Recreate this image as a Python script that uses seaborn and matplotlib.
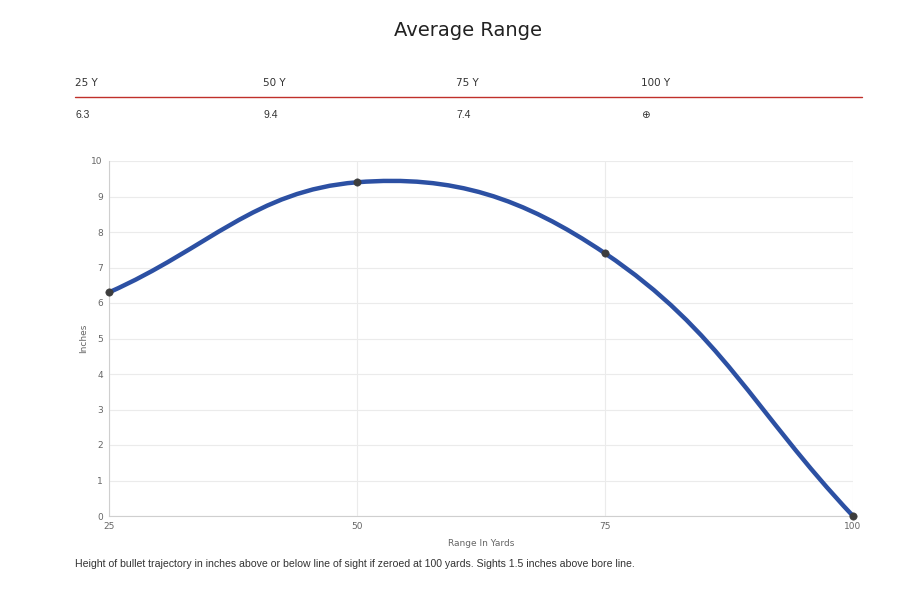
import numpy as np
import matplotlib
matplotlib.use("Agg")
import matplotlib.pyplot as plt
from matplotlib.path import Path
from matplotlib.patches import PathPatch
import seaborn as sns
import pandas as pd

# ---- data ----
ranges = [25, 50, 75, 100]
heights = [6.3, 9.4, 7.4, 0.0]
header_labels = ["25 Y", "50 Y", "75 Y", "100 Y"]
value_labels = ["6.3", "9.4", "7.4", "\u2295"]
title = "Average Range"
x_label = "Range In Yards"
y_label = "Inches"
caption = ("Height of bullet trajectory in inches above or below line of sight "
           "if zeroed at 100 yards. Sights 1.5 inches above bore line.")

sns.set_theme(style="white")
plt.rcParams['font.family'] = ['DejaVu Sans']
narrow = ['Liberation Sans Narrow', 'Liberation Sans', 'DejaVu Sans']

W, H = 900, 596
fig = plt.figure(figsize=(W / 100, H / 100), dpi=100)
left, right, top, bottom = 109, 853, 161, 516
ax = fig.add_axes([left / W, 1 - bottom / H, (right - left) / W, (bottom - top) / H])

ax.set_xlim(25, 100)
ax.set_ylim(0, 10)
ax.set_xticks(ranges)
ax.set_yticks(range(0, 11))
ax.grid(True, color="#ebebeb", linewidth=0.8)
ax.set_axisbelow(True)
for s in ["top", "right"]:
    ax.spines[s].set_visible(False)
ax.spines["left"].set_color("#cfcfcf")
ax.spines["bottom"].set_color("#cfcfcf")
ax.spines["left"].set_linewidth(0.8)
ax.spines["bottom"].set_linewidth(0.8)
ax.tick_params(axis="both", length=4, width=0.8, color="#e0e0e0",
               labelsize=6.5, labelcolor="#666666", pad=0.5)

# Chart.js style bezier spline (tension 0.4) computed in pixel-scaled space
sx = (right - left) / 75.0
sy = (bottom - top) / 10.0
t = 0.4
pts = list(zip(ranges, heights))
n = len(pts)
ctrl = []
for i in range(n):
    cx, cy = pts[i]
    px, py = pts[i - 1] if i > 0 else pts[i]
    nx, ny = pts[i + 1] if i < n - 1 else pts[i]
    d01 = np.hypot((cx - px) * sx, (cy - py) * sy)
    d12 = np.hypot((nx - cx) * sx, (ny - cy) * sy)
    tot = d01 + d12
    s01 = d01 / tot
    s12 = d12 / tot
    fa, fb = t * s01, t * s12
    prev_c = (cx - fa * (nx - px), cy - fa * (ny - py))
    next_c = (cx + fb * (nx - px), cy + fb * (ny - py))
    ctrl.append((prev_c, next_c))

verts = [pts[0]]
codes = [Path.MOVETO]
for i in range(n - 1):
    verts += [ctrl[i][1], ctrl[i + 1][0], pts[i + 1]]
    codes += [Path.CURVE4] * 3
patch = PathPatch(Path(verts, codes), facecolor="none", edgecolor="#2c50a3",
                  linewidth=3.2, capstyle="round", joinstyle="round", zorder=3,
                  clip_on=False)
ax.add_patch(patch)

df = pd.DataFrame({"range": ranges, "height": heights})
sns.scatterplot(data=df, x="range", y="height", ax=ax, color="#3d3d3d",
                s=28, edgecolor="#3d3d3d", zorder=4, clip_on=False, legend=False)
ax.set_xlabel(x_label, fontsize=6.5, color="#666666", labelpad=5.5)
ax.set_ylabel(y_label, fontsize=6.5, color="#666666", labelpad=2)

# title and table
fig.text(468 / W, 1 - 31 / H, title, ha="center", va="center",
         fontsize=14, color="#222222")
head_x = [75, 263, 456, 641]
for hx, lab, val in zip(head_x, header_labels, value_labels):
    fig.text(hx / W, 1 - 83 / H, lab, ha="left", va="center",
             fontsize=7.5, color="#333333")
    fig.text(hx / W, 1 - 115 / H, val, ha="left", va="center",
             fontsize=7.5, color="#333333", family=narrow)
fig.add_artist(plt.Line2D([75 / W, 862 / W], [1 - 97 / H, 1 - 97 / H],
                          color="#c0302a", linewidth=1.0))

fig.text(75 / W, 1 - 564 / H, caption, ha="left", va="center",
         fontsize=7.6, color="#333333", family=narrow)

fig.savefig("out.png", dpi=100)
